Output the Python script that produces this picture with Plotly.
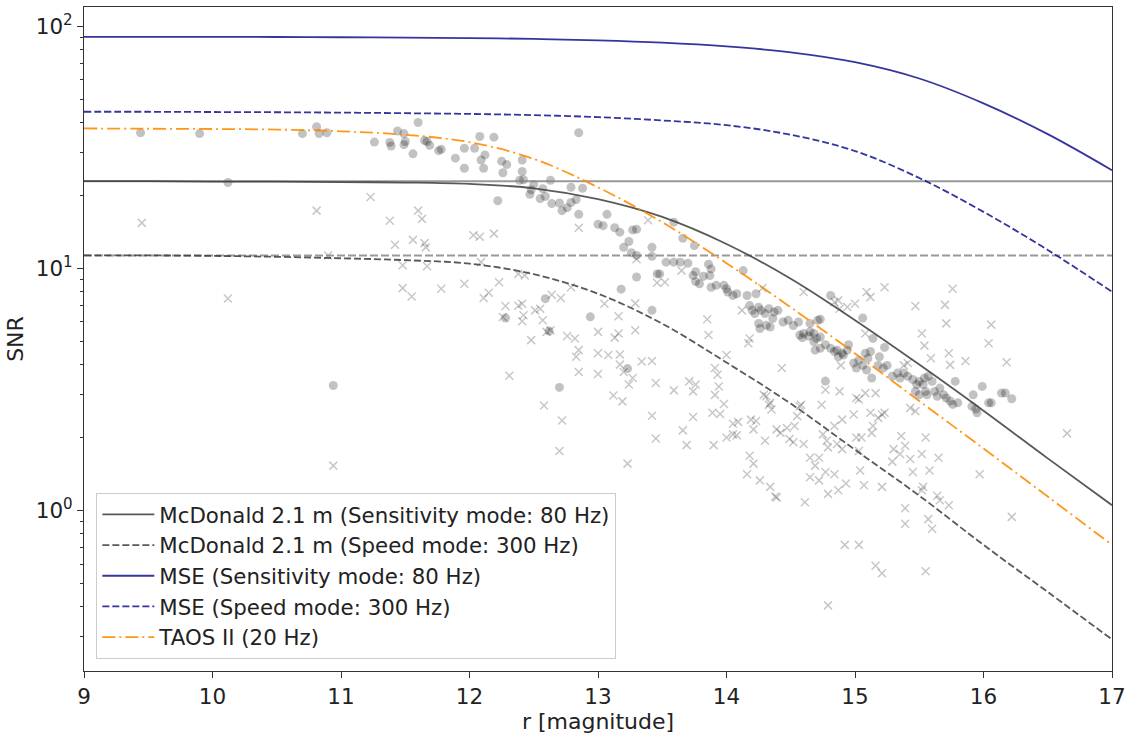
import math
import plotly.graph_objects as go

# ---------------- data ----------------
r_grid = [9, 9.5, 10, 10.5, 11, 11.5, 12, 12.5, 13, 13.5, 14, 14.5, 15, 15.5, 16, 16.5, 17]

mcd_sens = [22.9, 22.9, 22.8, 22.8, 22.7, 22.6, 22.3, 21.4, 19.3, 16.3, 12.6, 9.05, 6.1, 4.0, 2.58, 1.64, 1.05]
mcd_speed = [11.3, 11.3, 11.25, 11.15, 11.0, 10.8, 10.45, 9.45, 7.85, 5.9, 4.08, 2.76, 1.78, 1.15, 0.72, 0.46, 0.293]
mse_sens = [90.4, 90.4, 90.3, 90.2, 90.0, 89.7, 89.3, 88.6, 87.4, 85.5, 82.5, 78.0, 71.0, 60.8, 48.0, 35.8, 25.4]
mse_speed = [44.3, 44.3, 44.2, 44.1, 43.95, 43.7, 43.4, 42.9, 42.1, 40.8, 39.0, 35.6, 30.5, 23.6, 17.1, 11.9, 8.0]
taos = [37.8, 37.7, 37.6, 37.4, 36.8, 35.6, 33.2, 28.3, 21.6, 15.5, 10.5, 6.9, 4.45, 2.83, 1.8, 1.14, 0.72]

asymptote_snr = [22.9, 11.3]
x_range = [9, 17]

circle_r = [9.44, 9.90, 10.12, 10.70, 10.81, 10.83, 10.89, 10.94, 11.26, 11.38, 11.39, 11.44, 11.49, 11.49,
            11.50, 11.56, 11.60, 11.65, 11.67, 11.69, 11.76, 11.78, 11.89, 11.96, 11.96, 12.04, 12.08, 12.09,
            12.12, 12.11, 12.19, 12.22, 12.25, 12.29, 12.26, 12.28, 12.39, 12.41, 12.41, 12.42, 12.47, 12.48,
            12.50, 12.55, 12.57, 12.59, 12.59, 12.62, 12.63, 12.64, 12.70, 12.70, 12.72, 12.76, 12.79, 12.79,
            12.83, 12.85, 12.85, 12.88, 12.94, 13.00, 13.04, 13.07, 13.13, 13.17, 13.18, 13.23, 13.24, 13.20,
            13.26, 13.27, 13.30, 13.30, 13.30, 13.42, 13.42, 13.42, 13.46, 13.48, 13.53, 13.59, 13.59, 13.64,
            13.66, 13.70, 13.74, 13.75, 13.76, 13.76, 13.79, 13.82, 13.86, 13.88, 13.87, 13.88, 13.92, 13.98,
            14.00, 14.01, 14.05, 14.08, 14.13, 14.16, 14.23, 14.18, 14.20, 14.22, 14.25, 14.27, 14.30, 14.33,
            14.37, 14.40, 14.36, 14.25, 14.31, 14.26, 14.34, 14.44, 14.48, 14.52, 14.56, 14.65, 14.71, 14.81,
            14.73, 15.06, 15.14, 15.23, 14.60, 14.64, 14.68, 14.70, 14.73, 14.69, 14.73, 14.59, 14.57, 14.65,
            14.68, 14.77, 14.81, 14.84, 14.86, 14.90, 14.94, 14.91, 14.87, 14.95, 14.99, 15.03, 15.08, 15.12,
            15.10, 15.01, 15.06, 15.09, 15.13, 15.19, 15.18, 15.22, 15.25, 14.77, 15.29, 15.33, 15.35, 15.38,
            15.41, 15.45, 15.48, 15.50, 15.53, 15.54, 15.57, 15.60, 15.47, 15.50, 15.55, 15.56, 15.62, 15.64,
            15.66, 15.69, 15.71, 15.74, 15.76, 15.78, 15.80, 15.91, 15.94, 15.95, 15.99, 15.92, 16.04, 16.06,
            16.14, 16.17, 16.22]
circle_snr = [36.3, 36.0, 22.6, 36.0, 38.4, 36.0, 36.3, 3.28, 33.2, 33.1, 32.0, 36.9, 36.0, 32.4,
              33.4, 29.7, 40.0, 33.7, 33.4, 32.2, 30.6, 31.0, 28.5, 31.3, 25.9, 31.3, 35.0, 28.0,
              29.4, 25.9, 34.8, 19.0, 27.7, 26.8, 24.8, 6.23, 23.1, 28.0, 25.1, 23.2, 20.2, 21.1,
              22.2, 19.4, 21.3, 19.8, 7.49, 5.5, 23.1, 18.5, 18.6, 3.22, 17.3, 17.8, 21.6, 18.7,
              19.2, 36.3, 16.7, 21.4, 6.3, 15.2, 15.0, 16.7, 14.7, 14.1, 8.2, 3.85, 12.9, 12.2,
              11.6, 14.4, 14.5, 11.3, 9.2, 12.2, 11.2, 6.7, 9.48, 9.48, 10.6, 10.6, 15.5, 10.6,
              13.3, 10.5, 9.33, 12.4, 9.67, 8.81, 8.63, 9.27, 10.4, 9.94, 9.33, 8.35, 8.50, 8.50,
              8.23, 7.98, 7.72, 7.85, 9.78, 7.72, 7.85, 7.01, 6.70, 6.50, 6.90, 6.70, 6.50, 6.81,
              6.60, 6.70, 6.20, 5.92, 5.81, 5.64, 5.72, 6.00, 6.10, 5.80, 6.00, 5.92, 6.10, 7.72,
              6.16, 6.23, 5.13, 4.71, 5.38, 5.25, 5.38, 5.13, 5.20, 4.59, 4.67, 5.17, 5.30, 5.47,
              4.97, 4.83, 4.67, 4.53, 4.59, 4.46, 4.59, 4.38, 4.31, 4.83, 4.06, 4.17, 4.46, 4.53,
              4.25, 3.87, 3.97, 3.80, 3.52, 4.31, 3.97, 3.87, 3.97, 3.42, 3.58, 3.69, 3.52, 3.69,
              3.58, 3.47, 3.31, 3.41, 3.31, 3.52, 3.58, 3.41, 3.10, 3.00, 3.10, 3.00, 3.10, 2.96,
              3.20, 3.00, 2.91, 2.83, 2.74, 3.41, 2.78, 2.69, 2.62, 2.53, 3.25, 3.00, 2.78, 2.78,
              3.05, 3.05, 2.89]

cross_r = [9.45, 10.12, 10.81, 10.90, 10.94, 11.23, 11.38, 11.42, 11.48, 11.48, 11.55, 11.56, 11.60, 11.63,
           11.65, 11.66, 11.67, 11.78, 11.96, 12.03, 12.08, 12.09, 12.11, 12.15, 12.19, 12.23, 12.26, 12.28,
           12.31, 12.38, 12.43, 12.38, 12.41, 12.42, 12.41, 12.48, 12.51, 12.55, 12.57, 12.58, 12.60, 12.63,
           12.64, 12.70, 12.71, 12.72, 12.76, 12.79, 12.82, 12.83, 12.85, 12.85, 12.85, 13.00, 13.00, 13.00,
           13.05, 13.08, 13.12, 13.13, 13.16, 13.16, 13.17, 13.17, 13.19, 13.20, 13.23, 13.24, 13.27, 13.29,
           13.29, 13.30, 13.34, 13.39, 13.42, 13.42, 13.45, 13.45, 13.46, 13.52, 13.59, 13.65, 13.66, 13.69,
           13.71, 13.74, 13.74, 13.76, 13.85, 13.86, 13.89, 13.90, 13.91, 13.91, 13.93, 13.94, 13.95, 13.98,
           14.00, 14.00, 14.05, 14.05, 14.08, 14.09, 14.12, 14.16, 14.17, 14.18, 14.18, 14.19, 14.21, 14.21,
           14.23, 14.26, 14.28, 14.29, 14.30, 14.31, 14.33, 14.34, 14.34, 14.35, 14.38, 14.39, 14.39, 14.42,
           14.43, 14.47, 14.49, 14.52, 14.53, 14.55, 14.57, 14.58, 14.60, 14.60, 14.61, 14.65, 14.65, 14.69,
           14.72, 14.72, 14.74, 14.75, 14.77, 14.77, 14.78, 14.79, 14.79, 14.79, 14.84, 14.84, 14.84, 14.86,
           14.87, 14.87, 14.88, 14.88, 14.89, 14.90, 14.90, 14.92, 14.93, 14.94, 14.99, 15.00, 15.01, 15.01,
           15.03, 15.03, 15.03, 15.04, 15.05, 15.07, 15.08, 15.08, 15.09, 15.12, 15.12, 15.13, 15.14, 15.16,
           15.16, 15.18, 15.21, 15.21, 15.21, 15.23, 15.23, 15.29, 15.30, 15.35, 15.36, 15.38, 15.39, 15.39,
           15.39, 15.41, 15.43, 15.43, 15.45, 15.47, 15.47, 15.52, 15.52, 15.52, 15.53, 15.54, 15.55, 15.55,
           15.57, 15.58, 15.59, 15.60, 15.64, 15.65, 15.66, 15.70, 15.71, 15.73, 15.73, 15.74, 15.76, 15.86,
           15.97, 16.04, 16.06, 16.18, 16.22, 16.65]
cross_snr = [15.4, 7.5, 17.3, 11.3, 1.53, 19.7, 15.7, 12.5, 10.3, 8.28, 7.65, 13.1, 17.3, 16.0,
             12.7, 12.2, 10.2, 8.23, 8.63, 13.7, 13.5, 10.6, 7.54, 7.92, 13.9, 8.76, 6.29, 6.98,
             3.60, 9.48, 9.33, 7.00, 7.14, 6.40, 6.04, 5.05, 6.70, 6.81, 6.10, 2.71, 5.46, 5.55,
             7.77, 1.76, 7.54, 2.35, 5.25, 8.35, 5.13, 4.31, 4.59, 3.73, 14.7, 5.46, 4.46, 3.66,
             7.14, 4.38, 2.98, 5.17, 5.38, 6.33, 4.40, 4.00, 2.82, 3.73, 1.56, 3.31, 3.52, 7.16,
             5.55, 10.9, 4.12, 15.8, 4.14, 2.46, 3.36, 1.98, 8.72, 8.76, 3.13, 9.78, 2.14, 1.86,
             3.41, 2.43, 3.10, 3.31, 6.16, 5.30, 2.53, 1.86, 3.87, 3.00, 3.63, 3.25, 2.50, 2.75,
             4.38, 2.00, 2.28, 2.06, 2.04, 2.32, 6.70, 1.41, 4.90, 5.13, 1.68, 2.37, 1.56, 2.16,
             2.34, 1.33, 8.28, 3.00, 1.94, 2.96, 2.73, 2.78, 1.25, 2.61, 1.14, 2.16, 1.13, 2.09,
             3.87, 2.19, 1.97, 1.91, 2.23, 2.45, 2.69, 2.73, 7.98, 1.88, 1.08, 1.65, 1.37, 1.53,
             1.65, 1.33, 2.73, 2.06, 3.15, 1.44, 1.94, 1.82, 1.17, 0.405, 7.25, 2.23, 1.41, 1.88,
             7.37, 1.21, 6.81, 3.10, 3.97, 2.37, 1.79, 0.72, 1.29, 6.92, 2.49, 7.14, 2.91, 2.00,
             2.87, 1.76, 0.72, 1.46, 2.00, 1.27, 3.05, 5.38, 7.98, 7.60, 2.53, 2.09, 2.23, 3.05,
             0.59, 2.41, 2.49, 1.25, 0.55, 8.35, 2.53, 1.59, 1.79, 1.71, 2.03, 3.97, 1.85, 1.02,
             0.88, 4.06, 1.63, 2.65, 1.44, 6.98, 2.57, 5.38, 1.71, 1.21, 1.25, 4.79, 2.00, 0.56,
             0.92, 1.46, 4.25, 0.84, 1.15, 1.65, 1.10, 7.06, 5.92, 4.46, 1.05, 3.99, 8.23, 4.14,
             1.41, 4.90, 5.85, 4.09, 0.94, 2.08]

series_names = [
    "McDonald 2.1 m (Sensitivity mode: 80 Hz)",
    "McDonald 2.1 m (Speed mode: 300 Hz)",
    "MSE (Sensitivity mode: 80 Hz)",
    "MSE (Speed mode: 300 Hz)",
    "TAOS II (20 Hz)",
]
y_major = [1, 10, 100]
y_major_text = ["10<sup>0</sup>", "10<sup>1</sup>", "10<sup>2</sup>"]
y_minor = [0.3, 0.4, 0.5, 0.6, 0.7, 0.8, 0.9, 2, 3, 4, 5, 6, 7, 8, 9, 20, 30, 40, 50, 60, 70, 80, 90]
x_ticks = [9, 10, 11, 12, 13, 14, 15, 16, 17]
y_range = [0.217, 120]

# ---------------- figure ----------------
fig = go.Figure()

fig.add_trace(go.Scatter(x=cross_r, y=cross_snr, mode="markers", showlegend=False,
                         marker=dict(symbol="x-thin", size=8, color="rgba(0,0,0,0.22)",
                                     line=dict(width=1.5, color="rgba(0,0,0,0.22)"))))
fig.add_trace(go.Scatter(x=circle_r, y=circle_snr, mode="markers", showlegend=False,
                         marker=dict(symbol="circle", size=9, color="rgba(0,0,0,0.24)",
                                     line=dict(width=0))))

hstyles = ["solid", "8px,3px"]
for val, dsh in zip(asymptote_snr, hstyles):
    fig.add_trace(go.Scatter(x=x_range, y=[val, val], mode="lines", showlegend=False,
                             line=dict(color="rgba(128,128,128,0.8)", width=2, dash=dsh)))

curves = [mcd_sens, mcd_speed, mse_sens, mse_speed, taos]
colors = ["rgba(60,60,60,0.85)", "rgba(60,60,60,0.85)", "rgba(25,25,145,0.88)",
          "rgba(25,25,145,0.88)", "rgba(255,140,0,0.9)"]
dashes = ["solid", "7px,3px", "solid", "7px,3px", "13px,4px,2px,4px"]
for name, ys, c, d in zip(series_names, curves, colors, dashes):
    fig.add_trace(go.Scatter(x=r_grid, y=ys, mode="lines", name=name,
                             line=dict(color=c, width=1.8, dash=d, shape="spline", smoothing=1.0)))

font_family = "DejaVu Sans"
fig.update_layout(
    width=1138, height=735,
    margin=dict(l=84, r=26, t=6, b=60),
    paper_bgcolor="white", plot_bgcolor="white",
    font=dict(family=font_family, size=19, color="#222"),
    legend=dict(x=0.012, y=0.018, xanchor="left", yanchor="bottom",
                bgcolor="rgba(255,255,255,0.85)", bordercolor="#cccccc", borderwidth=1,
                font=dict(size=21.3, family=font_family, color="#222"), tracegroupgap=0,
                itemwidth=52),
)
fig.update_xaxes(range=x_range, tickvals=x_ticks, ticks="outside", ticklen=6, tickcolor="#333",
                 showline=True, linecolor="#333", linewidth=1, mirror=True, showgrid=False,
                 zeroline=False, title=dict(text="r [magnitude]", standoff=5, font=dict(size=22)),
                 tickfont=dict(size=21.5))
fig.update_yaxes(type="log", range=[math.log10(y_range[0]), math.log10(y_range[1])],
                 tickvals=y_major, ticktext=y_major_text, ticks="outside", ticklen=6, tickcolor="#333",
                 minor=dict(tickvals=y_minor, ticks="outside", ticklen=3.5, tickcolor="#333", showgrid=False),
                 showline=True, linecolor="#333", linewidth=1, mirror=True, showgrid=False,
                 zeroline=False, title=dict(text="SNR", standoff=6, font=dict(size=22)),
                 tickfont=dict(size=21.5))

fig.write_html("out.html")
